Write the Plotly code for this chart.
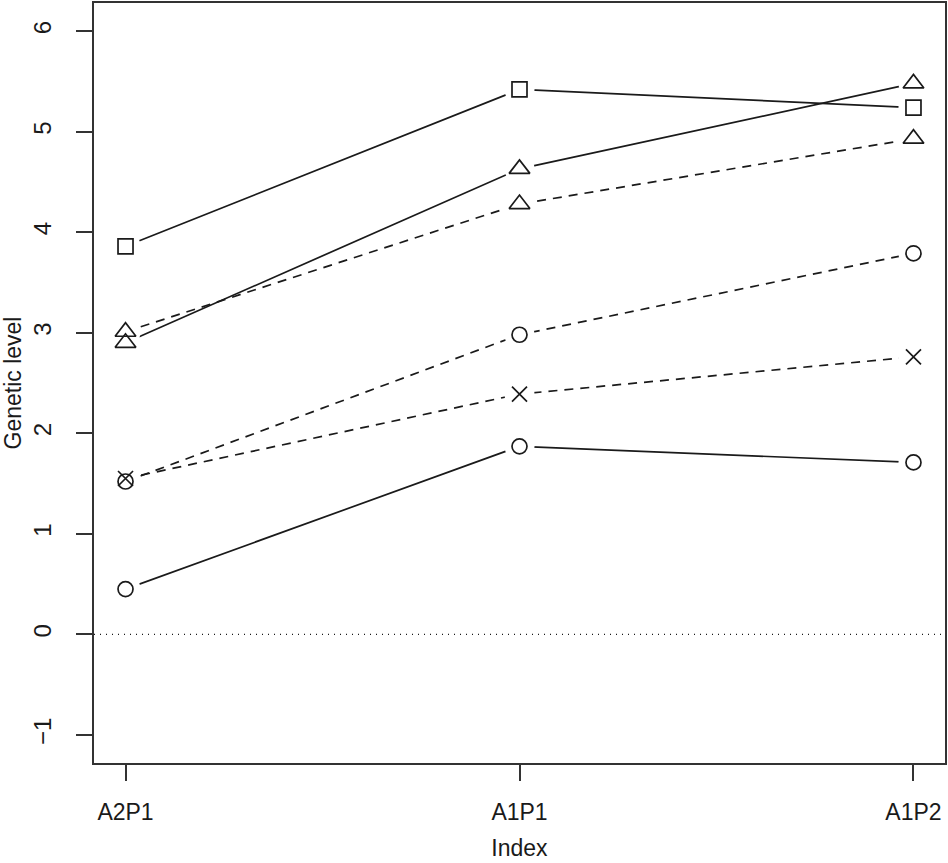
import plotly.graph_objects as go

categories = ["A2P1", "A1P1", "A1P2"]

square_solid = [3.86, 5.42, 5.24]
triangle_solid = [2.90, 4.63, 5.48]
triangle_dashed = [3.01, 4.28, 4.93]
circle_dashed = [1.52, 2.98, 3.79]
cross_dashed = [1.55, 2.39, 2.76]
circle_solid = [0.45, 1.87, 1.71]

series = [
    (square_solid, "solid", "square-open"),
    (triangle_solid, "solid", "triangle-up-open"),
    (triangle_dashed, "dashed", "triangle-up-open"),
    (circle_dashed, "dashed", "circle-open"),
    (cross_dashed, "dashed", "x-thin-open"),
    (circle_solid, "solid", "circle-open"),
]

x_idx = list(range(1, len(categories) + 1))
INK = "#1a1a1a"
FONT = "Liberation Sans, Arial, Helvetica, sans-serif"

fig = go.Figure()

# reference line at zero
fig.add_trace(go.Scatter(x=[0.92, 3.08], y=[0, 0], mode="lines",
                         line=dict(color=INK, width=1.3, dash="1px,5px"),
                         hoverinfo="skip", showlegend=False))

# connecting lines
for vals, style, sym in series:
    fig.add_trace(go.Scatter(
        x=x_idx, y=vals, mode="lines",
        line=dict(color=INK, width=1.7,
                  dash="solid" if style == "solid" else "9px,7px"),
        showlegend=False, hoverinfo="skip"))

# white discs to create the gaps around points (R type="b")
for vals, style, sym in series:
    fig.add_trace(go.Scatter(
        x=x_idx, y=vals, mode="markers",
        marker=dict(symbol="circle", size=30, color="white", line=dict(width=0)),
        showlegend=False, hoverinfo="skip"))

# point symbols
for vals, style, sym in series:
    size = 18 if "triangle" in sym else 15
    fig.add_trace(go.Scatter(
        x=x_idx, y=vals, mode="markers",
        marker=dict(symbol=sym, size=size, color=INK, line=dict(width=1.7, color=INK)),
        showlegend=False))

fig.update_layout(
    width=948, height=863,
    margin=dict(l=94, r=1, t=1, b=100),
    paper_bgcolor="white", plot_bgcolor="white",
    font=dict(family=FONT, size=23, color=INK),
    xaxis=dict(range=[0.92, 3.08], tickvals=x_idx, ticktext=categories,
               showgrid=False, zeroline=False, showline=True, mirror=True,
               linecolor="#333333", linewidth=1.5,
               ticks="outside", ticklen=16, tickwidth=1.5, tickcolor="#333333",
               ticklabelstandoff=12,
               title=dict(text="Index", standoff=16, font=dict(size=23))),
    yaxis=dict(range=[-1.28, 6.28], tickvals=[-1, 0, 1, 2, 3, 4, 5, 6],
               tickangle=-90, tickfont=dict(size=24),
               showgrid=False, zeroline=False, showline=True, mirror=True,
               linecolor="#333333", linewidth=1.5,
               ticks="outside", ticklen=16, tickwidth=1.5, tickcolor="#333333",
               ticklabelstandoff=16,
               title=dict(text="Genetic level", standoff=12, font=dict(size=23))),
)

fig.write_html("out.html", config={"displayModeBar": False},
               post_script="document.body.style.margin='0';document.body.style.overflow='hidden';")
